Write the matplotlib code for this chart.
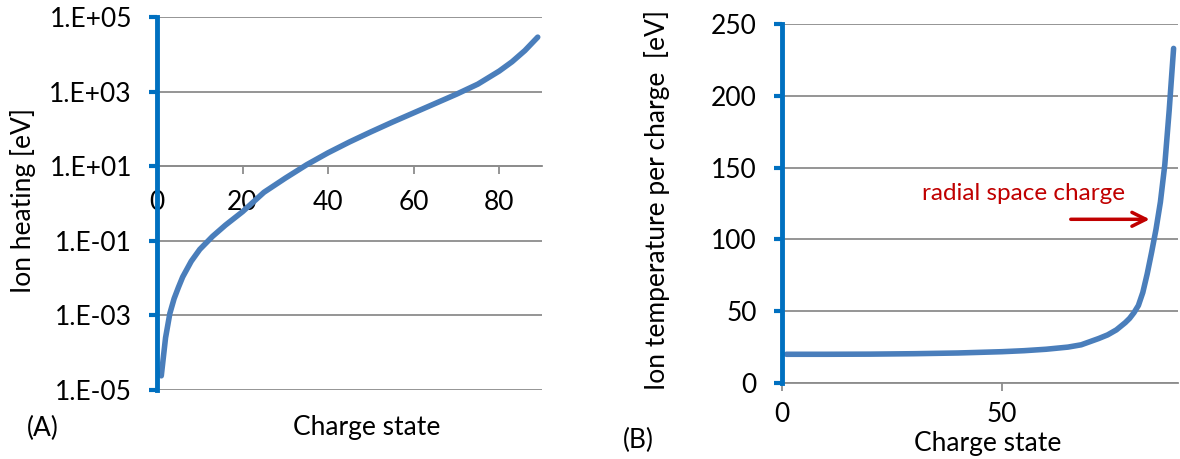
import numpy as np
import matplotlib
matplotlib.use("Agg")
import matplotlib.pyplot as plt
from matplotlib.ticker import FixedLocator, FuncFormatter

plt.rcParams['font.family'] = ['Lato', 'DejaVu Sans']

# panel A: ion heating vs charge state (log10 of eV)
charge_a = [1, 2, 3, 4, 5, 6, 8, 10, 13, 16, 20, 25, 30, 35, 40, 45, 50,
            55, 60, 65, 70, 75, 80, 83, 86, 89]
log_heat = [-4.62, -3.6, -2.95, -2.55, -2.25, -1.97, -1.55, -1.23, -0.88,
            -0.58, -0.22, 0.3, 0.68, 1.04, 1.36, 1.65, 1.92, 2.18, 2.43,
            2.68, 2.93, 3.2, 3.55, 3.8, 4.1, 4.46]
heat = [10 ** v for v in log_heat]

# panel B: ion temperature per charge [eV]
charge_b = [1, 10, 20, 30, 40, 50, 55, 60, 65, 68, 70, 72, 74, 76, 78, 79,
            80, 81, 82, 83, 84, 85, 86, 87, 88, 89]
temp_b = [20.0, 20.0, 20.1, 20.4, 20.9, 21.8, 22.5, 23.5, 25, 26.6, 28.8,
          31, 33.5, 37, 42, 45, 49, 54, 63, 76, 91, 107, 126, 152, 190, 233]

a_yticks = [1e-5, 1e-3, 1e-1, 1e1, 1e3, 1e5]
a_xticks = [0, 20, 40, 60, 80]
b_yticks = [0, 50, 100, 150, 200, 250]
b_xticks = [0, 50]

W, H = 1180, 459
spine_blue = '#0070C0'
line_blue = '#4A7EBB'
grid_gray = '#8C8C8C'
fs = 19

fig = plt.figure(figsize=(W / 100, H / 100), dpi=100)

def style(ax):
    for s in ['top', 'right']:
        ax.spines[s].set_visible(False)
    ax.spines['left'].set_color(spine_blue)
    ax.spines['left'].set_linewidth(3.5)
    ax.spines['left'].set_zorder(5)
    ax.spines['bottom'].set_color(grid_gray)
    ax.spines['bottom'].set_linewidth(1.3)
    ax.tick_params(axis='y', colors=spine_blue, width=3, length=6, pad=12,
                   labelcolor='black', labelsize=fs)
    ax.tick_params(axis='x', colors=grid_gray, width=1.3, length=6, pad=11,
                   labelcolor='black', labelsize=fs)
    ax.grid(axis='y', color=grid_gray, linewidth=1.3)
    ax.set_axisbelow(True)

# left panel
ax1 = fig.add_axes([157 / W, 1 - 390 / H, (542 - 157) / W, (390 - 17) / H])
style(ax1)
ax1.set_yscale('log')
ax1.set_ylim(1e-5, 1e5)
ax1.set_xlim(0, 90)
ax1.yaxis.set_major_locator(FixedLocator(a_yticks))
ax1.yaxis.set_minor_locator(FixedLocator([]))
ax1.yaxis.set_major_formatter(FuncFormatter(lambda v, p: "1.E%+03d" % round(np.log10(v))))
ax1.set_xticks(a_xticks)
ax1.spines['bottom'].set_position(('data', 10))
ax1.plot(charge_a, heat, color=line_blue, linewidth=4, solid_capstyle='round', zorder=4)

# right panel
ax2 = fig.add_axes([782 / W, 1 - 383 / H, (1178 - 782) / W, (383 - 24) / H])
style(ax2)
ax2.tick_params(axis='x', pad=8)
ax2.set_ylim(0, 250)
ax2.set_xlim(0, 90)
ax2.set_yticks(b_yticks)
ax2.set_xticks(b_xticks)
ax2.plot(charge_b, temp_b, color=line_blue, linewidth=4, solid_capstyle='round', zorder=4)
ax2.text(54.8, 132, 'radial space charge', color='#C00000', fontsize=17.5,
         ha='center', va='center')
ax2.annotate('', xy=(84.2, 114), xytext=(65, 114),
             arrowprops=dict(arrowstyle='->', color='#C00000', lw=2.5,
                             mutation_scale=25))

# labels
fig.text(23 / W, 1 - 200 / H, 'Ion heating [eV]', rotation=90, ha='center',
         va='center', fontsize=fs)
fig.text(367 / W, 1 - 427 / H, 'Charge state', ha='center', va='center', fontsize=fs)
fig.text(43 / W, 1 - 428 / H, '(A)', ha='center', va='center', fontsize=fs)
fig.text(657 / W, 1 - 200 / H, 'Ion temperature per charge  [eV]', rotation=90,
         ha='center', va='center', fontsize=fs)
fig.text(988 / W, 1 - 443 / H, 'Charge state', ha='center', va='center', fontsize=fs)
fig.text(638 / W, 1 - 440 / H, '(B)', ha='center', va='center', fontsize=fs)

fig.savefig('out.png', dpi=100)
